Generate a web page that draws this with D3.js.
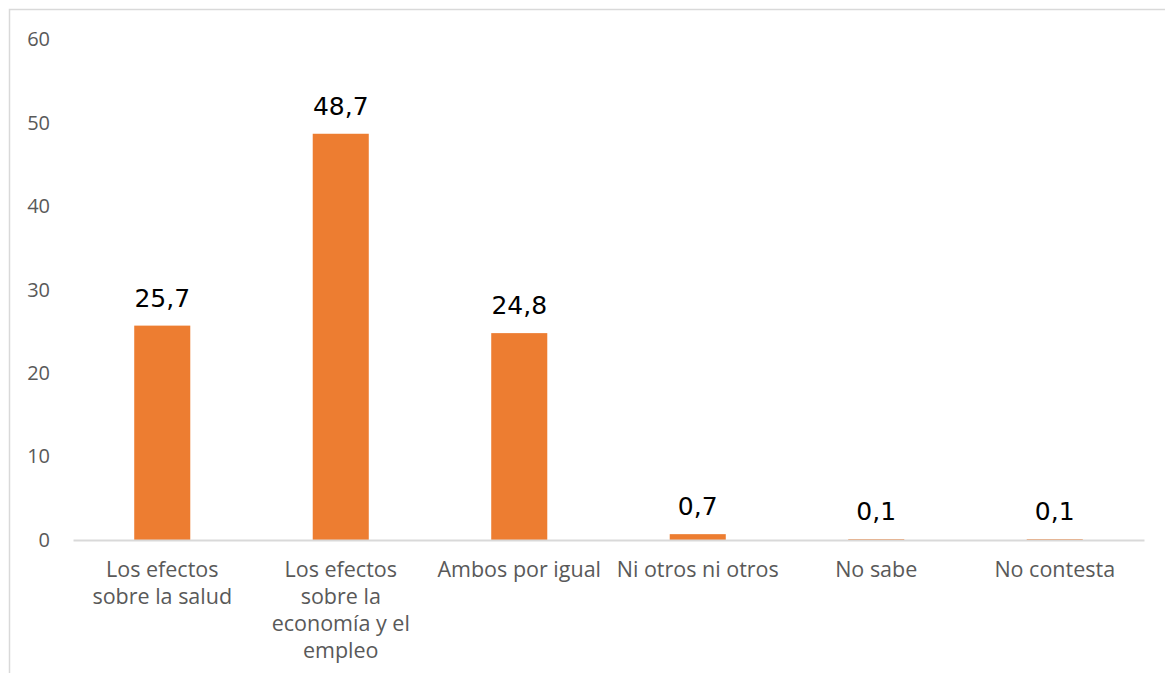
<!DOCTYPE html>
<html>
<head>
<meta charset="utf-8">
<script src="https://cdn.jsdelivr.net/npm/d3@7"></script>
<style>
  html, body { margin: 0; padding: 0; background: #fff; }
  svg { display: block; }
</style>
</head>
<body>
<svg id="chart" width="1165" height="673"></svg>
<script>
const categories = [
  "Los efectos sobre la salud",
  "Los efectos sobre la economía y el empleo",
  "Ambos por igual",
  "Ni otros ni otros",
  "No sabe",
  "No contesta"
];
const values = [25.7, 48.7, 24.8, 0.7, 0.1, 0.1];
const valueLabels = ["25,7", "48,7", "24,8", "0,7", "0,1", "0,1"];
const yTicks = [0, 10, 20, 30, 40, 50, 60];

const svg = d3.select("#chart");
const W = 1165, H = 673;

// frame
svg.append("rect")
  .attr("x", 9.5).attr("y", 9.5)
  .attr("width", W).attr("height", H)
  .attr("fill", "none").attr("stroke", "#d9d9d9").attr("stroke-width", 1.5);

const x = d3.scaleBand().domain(categories).range([73, 1144]).paddingInner(0).paddingOuter(0);
const y = d3.scaleLinear().domain([0, 60]).range([540, 39.5]);
const barW = x.bandwidth() * 0.314;

// y tick labels
const yAxis = d3.axisLeft(y).tickValues(yTicks).tickSize(0).tickPadding(0).tickFormat(d3.format("d"));
const gy = svg.append("g").attr("transform", "translate(50,0)").call(yAxis);
gy.select(".domain").remove();
gy.selectAll("text")
  .attr("fill", "#595959")
  .style("font-family", "'Open Sans', 'Noto Sans', sans-serif")
  .style("font-size", "20px");

// bars
svg.append("g").selectAll("rect").data(values).join("rect")
  .attr("x", (d, i) => x(categories[i]) + x.bandwidth() / 2 - barW / 2)
  .attr("width", barW)
  .attr("y", d => y(d))
  .attr("height", d => y(0) - y(d))
  .attr("fill", "#ed7d31");

// baseline axis
const xAxis = d3.axisBottom(x).tickSize(0).tickFormat("");
const gx = svg.append("g").attr("transform", `translate(0,${y(0)})`).call(xAxis);
gx.select(".domain").attr("stroke", "#d9d9d9").attr("stroke-width", 2);

// value labels
svg.append("g").selectAll("text").data(values).join("text")
  .attr("x", (d, i) => x(categories[i]) + x.bandwidth() / 2)
  .attr("y", d => y(d) - 19)
  .attr("text-anchor", "middle")
  .attr("fill", "#000")
  .style("font-family", "'DejaVu Sans', sans-serif")
  .style("font-size", "25px")
  .text((d, i) => valueLabels[i]);

// category labels with wrapping
const maxW = 168;
const lab = svg.append("g").selectAll("text").data(categories).join("text")
  .attr("text-anchor", "middle")
  .attr("fill", "#595959")
  .style("font-family", "'Open Sans', 'Noto Sans', sans-serif")
  .style("font-size", "21.5px");
lab.each(function(d) {
  const t = d3.select(this);
  const cx = x(d) + x.bandwidth() / 2;
  const words = d.split(" ");
  let lines = [], cur = [];
  const probe = t.append("tspan");
  words.forEach(w => {
    const test = cur.concat([w]).join(" ");
    probe.text(test);
    if (probe.node().getComputedTextLength() > maxW && cur.length) {
      lines.push(cur.join(" "));
      cur = [w];
    } else cur.push(w);
  });
  lines.push(cur.join(" "));
  probe.remove();
  lines.forEach((l, i) => {
    t.append("tspan").attr("x", cx).attr("y", 577 + i * 27).text(l);
  });
});
</script>
</body>
</html>
